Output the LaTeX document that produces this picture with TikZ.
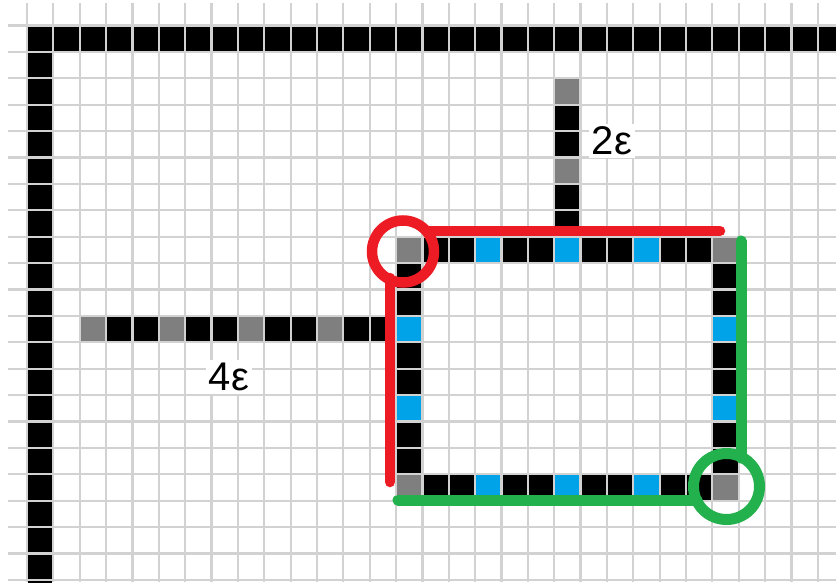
\documentclass[tikz,border=0pt]{standalone}
\usepackage{fontspec}
\setmainfont{Liberation Sans}
\definecolor{gridgray}{HTML}{D2D2D2}
\definecolor{cellgray}{HTML}{7F7F7F}
\definecolor{cellblue}{HTML}{00A2E8}
\definecolor{markred}{HTML}{ED1C24}
\definecolor{markgreen}{HTML}{22B14C}
\newcommand\pcell[3]{\fill[#3] ({27+26.36*#1+1.1},{25.5+26.4*#2+1.1}) rectangle ({27+26.36*(#1+1)-1.1},{25.5+26.4*(#2+1)-1.1});}
\tikzset{
  gridline/.style={draw=gridgray, line width=2.2pt},
  redmark/.style={draw=markred, line width=10.5pt, line cap=round},
  greenmark/.style={draw=markgreen, line width=11pt, line cap=round},
  lbl/.style={fill=white, inner sep=3pt, font=\fontsize{40}{46}\selectfont, text=black}
}
\begin{document}
\begin{tikzpicture}[x=1pt,y=-1pt]
\useasboundingbox (0,0) rectangle (836,582);
\begin{scope}
\clip (0,0) rectangle (836,582);
\fill[white] (0,0) rectangle (836,582);
\foreach \k in {0,...,30} {\draw[gridline] ({27+26.36*\k},3) -- ({27+26.36*\k},582);}
\foreach \k in {0,...,21} {\draw[gridline] (8,{25.5+26.4*\k}) -- (836,{25.5+26.4*\k});}
% frame
\foreach \i in {0,...,30} {\pcell{\i}{0}{black}}
\foreach \j in {1,...,21} {\pcell{0}{\j}{black}}
% vertical stub
\foreach \j/\c in {2/cellgray,3/black,4/black,5/cellgray,6/black,7/black} {\pcell{20}{\j}{\c}}
% horizontal stub
\foreach \i/\c in {2/cellgray,3/black,4/black,5/cellgray,6/black,7/black,8/cellgray,9/black,10/black,11/cellgray,12/black,13/black} {\pcell{\i}{11}{\c}}
% rectangle top and bottom
\foreach \i/\c in {14/cellgray,15/black,16/black,17/cellblue,18/black,19/black,20/cellblue,21/black,22/black,23/cellblue,24/black,25/black,26/cellgray} {\pcell{\i}{8}{\c}\pcell{\i}{17}{\c}}
% rectangle sides
\foreach \j/\c in {9/black,10/black,11/cellblue,12/black,13/black,14/cellblue,15/black,16/black} {\pcell{14}{\j}{\c}\pcell{26}{\j}{\c}}
\end{scope}
% labels
\node[lbl] (eps2) at (612,141) {2ε};
\node[lbl] (eps4) at (229,377) {4ε};
% red marks
\node[draw=markred, line width=10.5pt, circle, minimum size=62pt, inner sep=0pt] (redc) at (403,251.5) {};
\coordinate (rt1) at (428,231);
\coordinate (rt2) at (720,231);
\coordinate (rv1) at (390,278);
\coordinate (rv2) at (390,482);
\draw[redmark] (rt1) -- (rt2);
\draw[redmark] (rv1) -- (rv2);
% green marks
\node[draw=markgreen, line width=11pt, circle, minimum size=66pt, inner sep=0pt] (greenc) at (726.5,486.5) {};
\coordinate (gv1) at (741,241);
\coordinate (gv2) at (741,458);
\coordinate (gh1) at (398,500);
\coordinate (gh2) at (697,500);
\draw[greenmark] (gv1) -- (gv2);
\draw[greenmark] (gh1) -- (gh2);
\end{tikzpicture}
\end{document}
